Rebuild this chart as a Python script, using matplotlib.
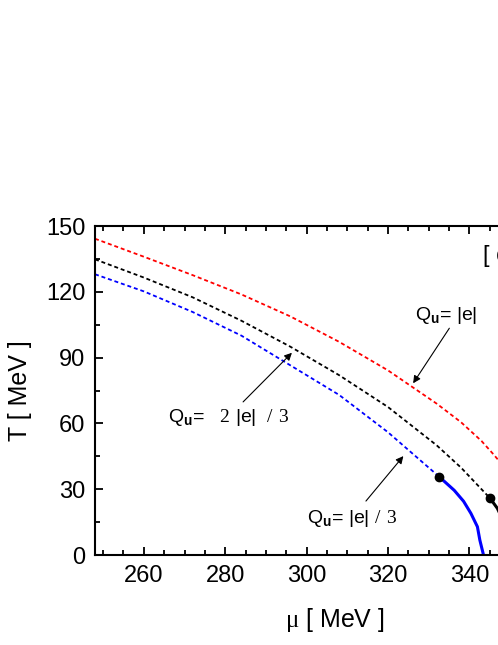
import matplotlib
matplotlib.use("Agg")
import matplotlib.pyplot as plt
from matplotlib.ticker import MultipleLocator

plt.rcParams['font.family'] = ['Liberation Sans', 'DejaVu Sans']
plt.rcParams['mathtext.fontset'] = 'custom'
plt.rcParams['mathtext.rm'] = 'Liberation Sans'
plt.rcParams['mathtext.bf'] = 'Liberation Sans:bold'
plt.rcParams['mathtext.sf'] = 'Liberation Serif'

# red dashed: Q_u = |e|
mu_red = [248, 260, 272, 284, 296, 308, 320, 332, 338, 343, 346, 350]
T_red = [144.2, 136.0, 127.6, 118.8, 108.8, 97.2, 84.2, 69.0, 60.5, 52.0, 45.8, 37.0]

# black dashed + solid: Q_u = 2|e|/3
mu_blk = [248, 260, 272, 284, 296, 308, 320, 332, 338, 345.1]
T_blk = [134.8, 126.5, 117.5, 106.8, 95.0, 82.0, 67.5, 50.0, 39.8, 25.9]
mu_blk_solid = [345.1, 346.9, 348.5, 350.0]
T_blk_solid = [25.9, 21.3, 15.0, 6.0]

# blue dashed + solid: Q_u = |e|/3
mu_blue = [248, 260, 272, 284, 296, 308, 320, 332.6]
T_blue = [128.0, 120.2, 110.8, 100.0, 86.5, 73.0, 56.0, 35.7]
mu_blue_solid = [332.6, 336.3, 338.6, 340.4, 342.0, 342.6, 343.5]
T_blue_solid = [35.7, 29.5, 24.5, 19.0, 12.9, 6.8, 0.0]

# critical end points
mu_cep = [332.6, 345.1]
T_cep = [35.7, 25.9]

fig = plt.figure(figsize=(4.98, 6.45), dpi=100)
ax = fig.add_axes([0.1908, 0.1395, 0.9639, 0.5101])

dash = (0, (2.2, 1.6))
ax.plot(mu_red, T_red, color='#ff0000', lw=1.3, linestyle=dash)
ax.plot(mu_blk, T_blk, color='black', lw=1.3, linestyle=dash)
ax.plot(mu_blue, T_blue, color='#0000ff', lw=1.3, linestyle=dash)
ax.plot(mu_blk_solid, T_blk_solid, color='black', lw=2.2)
ax.plot(mu_blue_solid, T_blue_solid, color='#0000ff', lw=2.2)
ax.plot(mu_cep, T_cep, 'o', color='black', ms=6, zorder=5)

ax.set_xlim(248, 366)
ax.set_ylim(0, 150)
ax.xaxis.set_major_locator(MultipleLocator(20))
ax.xaxis.set_minor_locator(MultipleLocator(5))
ax.yaxis.set_major_locator(MultipleLocator(30))
ax.yaxis.set_minor_locator(MultipleLocator(15))
ax.tick_params(which='both', direction='in', top=True, right=True,
               width=1.3, labelsize=17, pad=7)
ax.tick_params(which='major', length=6)
ax.tick_params(which='minor', length=3.5)
for s in ax.spines.values():
    s.set_linewidth(1.5)

ax.set_xlabel(r'$\mathsf{\mu}$ [ MeV ]', fontsize=18, labelpad=14)
ax.set_ylabel('T [ MeV ]', fontsize=18, labelpad=10)

ax.text(343.4, 136.3, '[ c ]', fontsize=17, va='center', ha='left')

fs = 14
ax.text(326.7, 107.2, r'Q$_{\bf u}$= |e|', fontsize=fs, va='baseline')
ax.text(266.0, 60.8, r'Q$_{\bf u}$=   $\mathsf{2}$ |e|  $\mathsf{/\ 3}$', fontsize=fs, va='baseline')
ax.text(300.0, 14.6, r'Q$_{\bf u}$= |e| $\mathsf{/\ 3}$', fontsize=fs, va='baseline')

arrow = dict(arrowstyle='-|>', lw=0.8, color='black', mutation_scale=11,
             shrinkA=0, shrinkB=0)
ax.annotate('', xy=(326.2, 78.3), xytext=(335.1, 103.4), arrowprops=arrow)
ax.annotate('', xy=(296.4, 92.2), xytext=(284.4, 69.8), arrowprops=arrow)
ax.annotate('', xy=(323.8, 45.1), xytext=(314.6, 24.6), arrowprops=arrow)

fig.savefig('out.png', dpi=100)
